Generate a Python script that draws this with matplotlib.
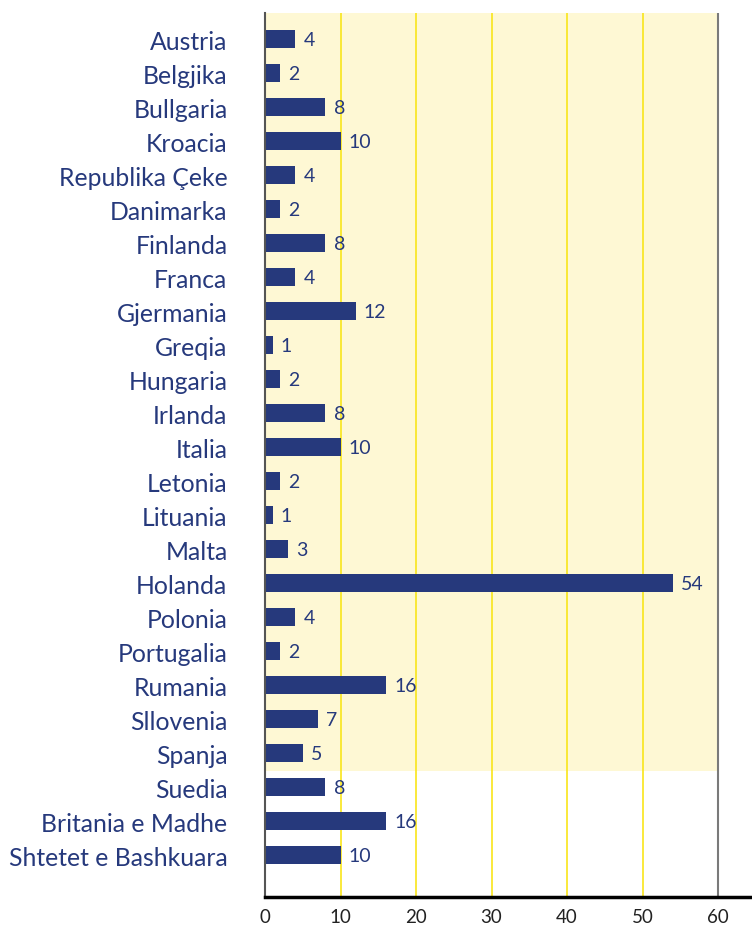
import matplotlib.pyplot as plt
import numpy as np

countries = ['Austria', 'Belgjika', 'Bullgaria', 'Kroacia', 'Republika Çeke', 'Danimarka',
             'Finlanda', 'Franca', 'Gjermania', 'Greqia', 'Hungaria', 'Irlanda', 'Italia',
             'Letonia', 'Lituania', 'Malta', 'Holanda', 'Polonia', 'Portugalia', 'Rumania',
             'Sllovenia', 'Spanja', 'Suedia', 'Britania e Madhe', 'Shtetet e Bashkuara']
values = [4, 2, 8, 10, 4, 2, 8, 4, 12, 1, 2, 8, 10, 2, 1, 3, 54, 4, 2, 16, 7, 5, 8, 16, 10]
n_highlight = 22  # Austria .. Spanja sit on the yellow band

plt.rcParams['font.family'] = ['Lato', 'DejaVu Sans']
navy = '#26397c'

fig = plt.figure(figsize=(7.52, 9.28), dpi=100)
ax = fig.add_axes([265 / 752, 30 / 928, 487 / 752, 884 / 928])

y = np.arange(len(countries))
ax.set_xlim(0, 64.5)
ax.set_ylim(len(countries) - 1 + 1.235, -0.765)

# yellow band behind the first group
ax.fill_between([0, 60], -0.765, n_highlight - 1 + 0.53, color='#fef8d4', zorder=0, lw=0)
for gx in range(10, 60, 10):
    ax.axvline(gx, color='#f9e51a', lw=1.2, zorder=1)
ax.axvline(60, color='#7a7a7a', lw=1.5, zorder=1)

ax.barh(y, values, height=0.53, color=navy, zorder=2)
for yi, v in zip(y, values):
    ax.annotate(str(v), (v, yi), xytext=(6, 0), textcoords='offset points',
                va='center', ha='left', fontsize=14, color=navy)

ax.set_yticks(y)
ax.set_yticklabels(countries, fontsize=17.8, color=navy)
ax.set_xticks(range(0, 61, 10))
ax.tick_params(axis='y', length=0, pad=27)
ax.tick_params(axis='x', length=0, pad=8, labelsize=13.5, colors='#222222')

for s in ['top', 'right']:
    ax.spines[s].set_visible(False)
ax.spines['left'].set_color('#555555')
ax.spines['left'].set_linewidth(1.5)
ax.spines['bottom'].set_color('black')
ax.spines['bottom'].set_linewidth(2.5)

fig.savefig('out.png', dpi=100)
